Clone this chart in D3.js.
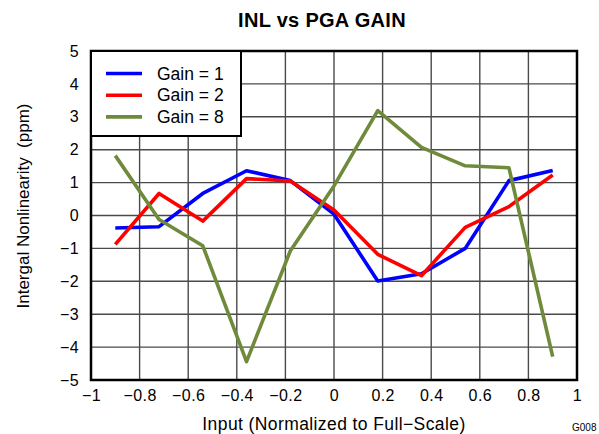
<!DOCTYPE html>
<html>
<head>
<meta charset="utf-8">
<script src="https://cdn.jsdelivr.net/npm/d3@7"></script>
<style>
  body { margin: 0; background: #fff; }
  text { font-family: "Liberation Sans", Arial, sans-serif; fill: #000; }
</style>
</head>
<body>
<div id="chart-area"></div>
<script>
// Data
const inputs = [-0.9, -0.72, -0.54, -0.36, -0.18, 0, 0.18, 0.36, 0.54, 0.72, 0.9];
const gain1 = [-0.38, -0.34, 0.67, 1.36, 1.06, 0.04, -1.99, -1.77, -1.0, 1.06, 1.37];
const gain2 = [-0.88, 0.67, -0.17, 1.12, 1.05, 0.17, -1.18, -1.83, -0.36, 0.27, 1.23];
const gain8 = [1.82, -0.12, -0.92, -4.44, -1.08, 0.9, 3.19, 2.07, 1.51, 1.45, -4.29];
const seriesNames = ['Gain = 1', 'Gain = 2', 'Gain = 8'];
const seriesColors = ['#0000ff', '#ff0000', '#6f8a3b'];
const xTicks = [-1, -0.8, -0.6, -0.4, -0.2, 0, 0.2, 0.4, 0.6, 0.8, 1];
const yTicks = [-5, -4, -3, -2, -1, 0, 1, 2, 3, 4, 5];

const canvasWidth = 599;
const canvasHeight = 434;
const margin = { left: 91, top: 51, right: 22, bottom: 54 };
const width = canvasWidth - margin.left - margin.right;
const height = canvasHeight - margin.top - margin.bottom;

const svg = d3
  .select('#chart-area')
  .append('svg')
  .attr('width', canvasWidth)
  .attr('height', canvasHeight);

const chart = svg.append('g').attr('transform', `translate(${margin.left},${margin.top})`);

const xScale = d3.scaleLinear().domain([-1, 1]).range([0, width]);
const yScale = d3.scaleLinear().domain([-5, 5]).range([height, 0]);
const minus = d => d3.format('')(d).replace('-', '\u2212');

// Grid
chart
  .append('g')
  .selectAll('line')
  .data(xTicks)
  .enter()
  .append('line')
  .attr('x1', d => xScale(d))
  .attr('x2', d => xScale(d))
  .attr('y1', 0)
  .attr('y2', height)
  .attr('stroke', '#4a4a4a')
  .attr('stroke-width', 1.4);

chart
  .append('g')
  .selectAll('line')
  .data(yTicks)
  .enter()
  .append('line')
  .attr('x1', 0)
  .attr('x2', width)
  .attr('y1', d => yScale(d))
  .attr('y2', d => yScale(d))
  .attr('stroke', '#4a4a4a')
  .attr('stroke-width', 1.4);

// Axes (labels only)
const xAxis = d3.axisBottom(xScale).tickValues(xTicks).tickSize(0).tickPadding(10).tickFormat(minus);
const xAxisGroup = chart.append('g').attr('transform', `translate(0,${height})`).call(xAxis);
const yAxis = d3.axisLeft(yScale).tickValues(yTicks).tickSize(0).tickPadding(12).tickFormat(minus);
const yAxisGroup = chart.append('g').call(yAxis);
[xAxisGroup, yAxisGroup].forEach(g => {
  g.select('.domain').remove();
  g.selectAll('text')
    .attr('font-size', '16px')
    .attr('letter-spacing', '0.4px')
    .attr('font-family', '"Liberation Sans", Arial, sans-serif');
});

// Lines
const allSeries = [gain1, gain2, gain8];
const line = d3
  .line()
  .x((d, i) => xScale(inputs[i]))
  .y(d => yScale(d));

allSeries.forEach((values, k) => {
  chart
    .append('path')
    .datum(values)
    .attr('d', line)
    .attr('fill', 'none')
    .attr('stroke', seriesColors[k])
    .attr('stroke-width', 3.6)
    .attr('stroke-linejoin', 'round');
});

// Frame
chart
  .append('rect')
  .attr('width', width)
  .attr('height', height)
  .attr('fill', 'none')
  .attr('stroke', '#000')
  .attr('stroke-width', 2.5);

// Legend
const legend = chart.append('g');
legend
  .append('rect')
  .attr('x', 0)
  .attr('y', 0)
  .attr('width', 150)
  .attr('height', 85)
  .attr('fill', '#fff')
  .attr('stroke', '#000')
  .attr('stroke-width', 2);

const legendRows = legend
  .selectAll('g')
  .data(seriesNames)
  .enter()
  .append('g')
  .attr('transform', (d, i) => `translate(0,${22.5 + i * 21.7})`);

legendRows
  .append('line')
  .attr('x1', 15)
  .attr('x2', 51)
  .attr('y1', 0)
  .attr('y2', 0)
  .attr('stroke', (d, i) => seriesColors[i])
  .attr('stroke-width', 3.6);

legendRows
  .append('text')
  .attr('x', 66)
  .attr('y', 6)
  .attr('font-size', '17.5px')
  .text(d => d);

// Title
svg
  .append('text')
  .attr('x', 322)
  .attr('y', 27)
  .attr('text-anchor', 'middle')
  .attr('font-size', '20px')
  .attr('font-weight', 'bold')
  .attr('letter-spacing', '0.3px')
  .text('INL vs PGA GAIN');

// X label
svg
  .append('text')
  .attr('x', margin.left + width / 2)
  .attr('y', 430)
  .attr('text-anchor', 'middle')
  .attr('font-size', '17.5px')
  .attr('letter-spacing', '0.4px')
  .text('Input (Normalized to Full\u2212Scale)');

// Y label
svg
  .append('text')
  .attr('transform', `translate(29,206) rotate(-90)`)
  .attr('text-anchor', 'middle')
  .attr('font-size', '17px')
  .style('white-space', 'pre')
  .text('Intergal Nonlinearity  (ppm)');

// Figure code
svg
  .append('text')
  .attr('x', 572)
  .attr('y', 431)
  .attr('font-size', '10px')
  .text('G008');
</script>
</body>
</html>
